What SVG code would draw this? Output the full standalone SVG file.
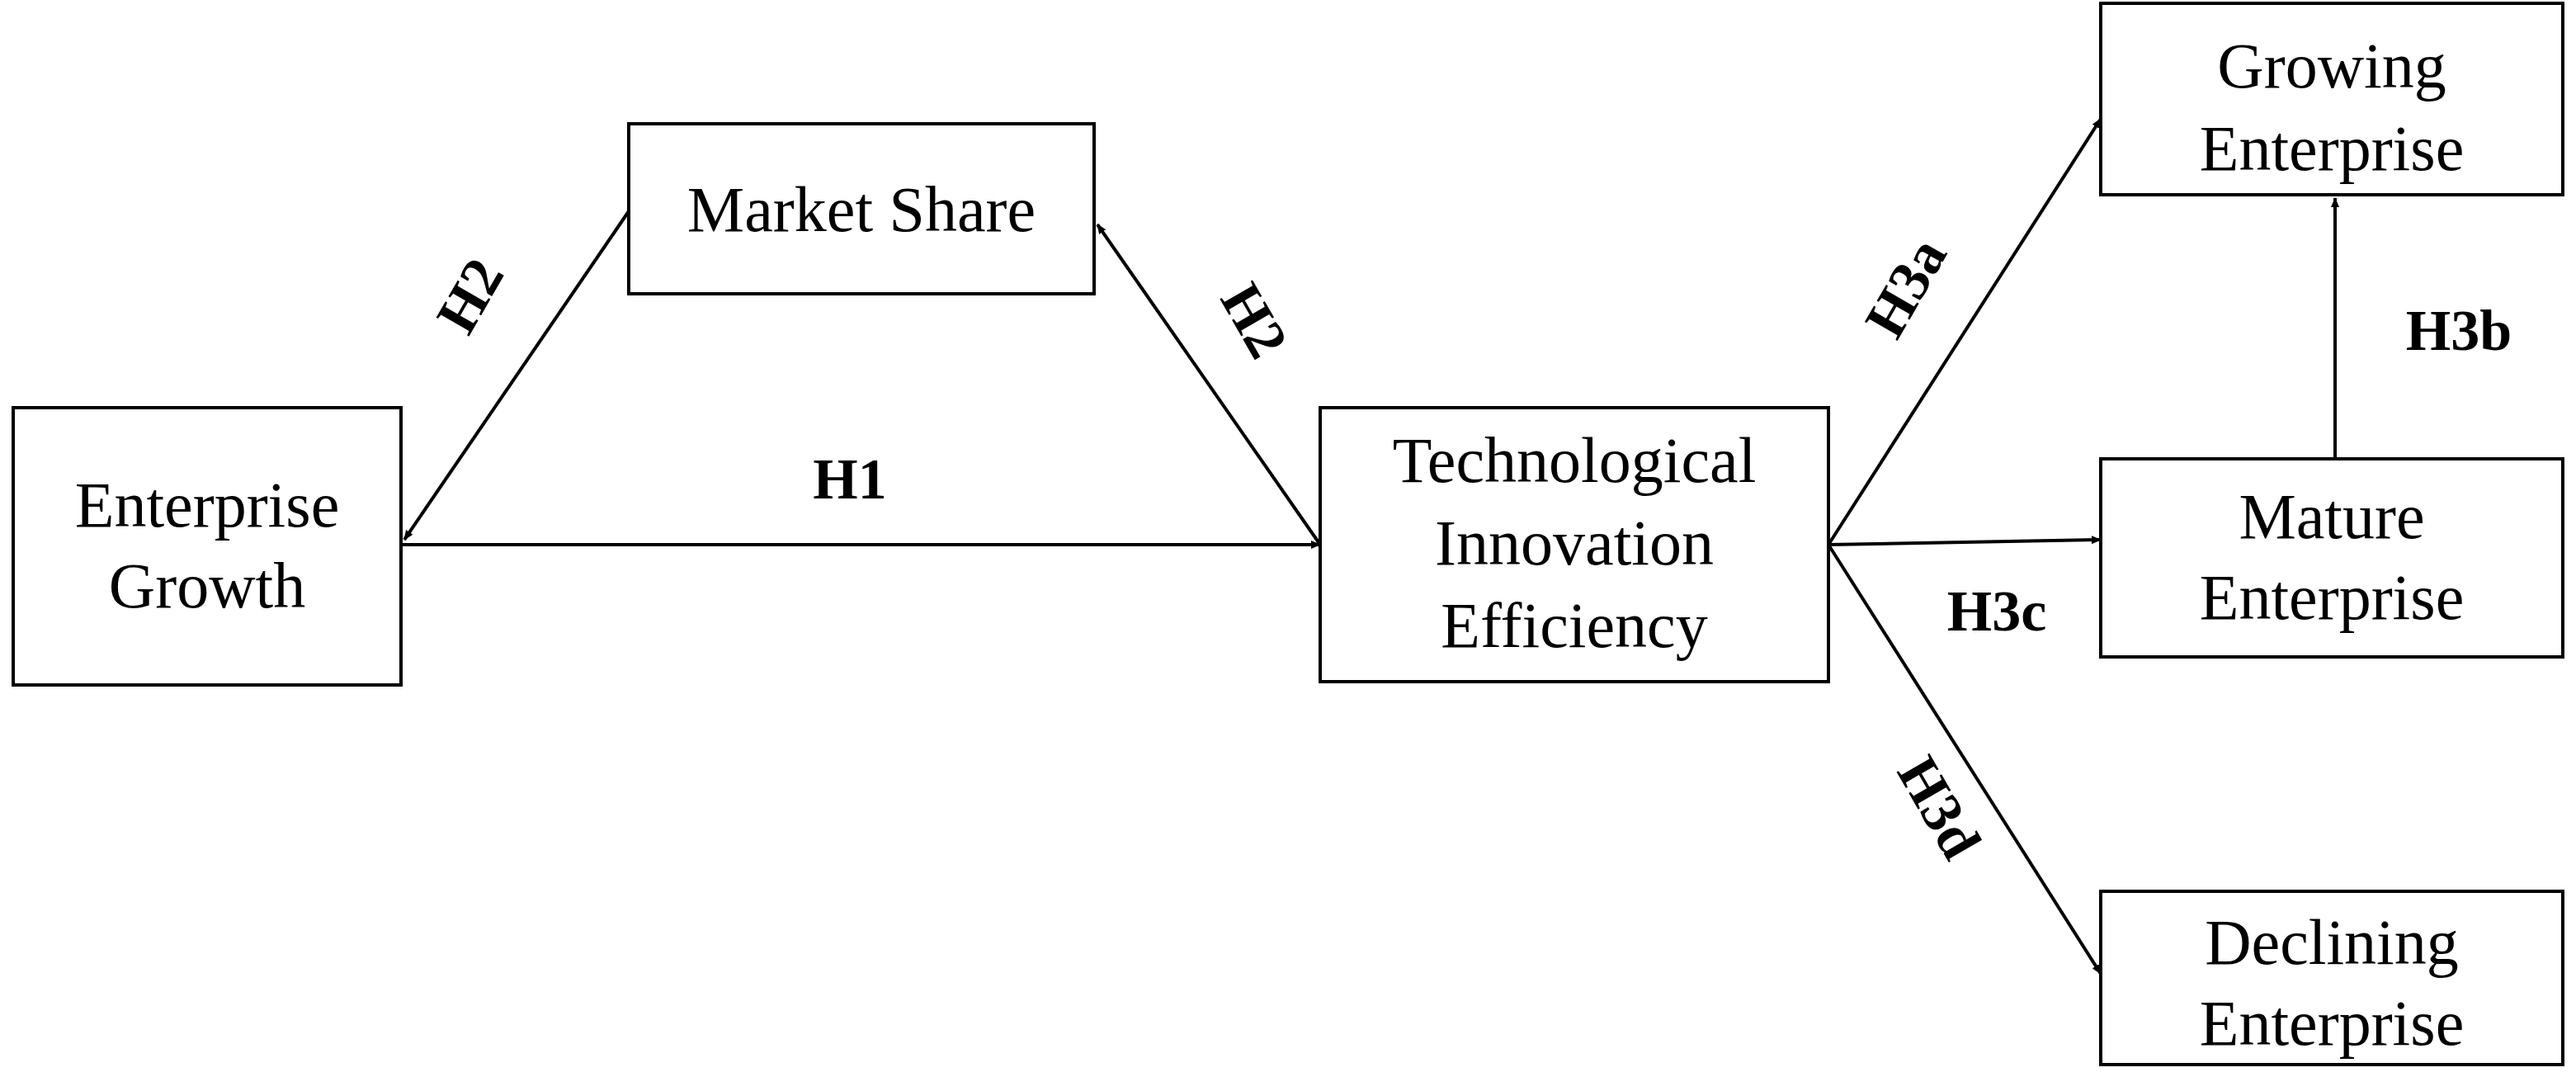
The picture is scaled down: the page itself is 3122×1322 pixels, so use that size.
<svg xmlns="http://www.w3.org/2000/svg" width="3122" height="1322" viewBox="0 0 3122 1322">
<style>
rect{fill:#fff;stroke:#000;stroke-width:4}
.t{font-family:"Liberation Serif",serif;font-size:78px;text-anchor:middle}
.h{font-family:"Liberation Serif",serif;font-size:70px;font-weight:bold;text-anchor:middle}
line{stroke:#000;stroke-width:4;marker-end:url(#a)}
</style>
<defs><marker id="a" markerWidth="12" markerHeight="10" refX="11" refY="5" orient="auto" markerUnits="userSpaceOnUse" viewBox="0 0 12 10"><path d="M0,0L12,5L0,10z"/></marker></defs>
<rect width="3122" height="1322" style="stroke:none"/>
<g id="market"><rect x="762" y="150" width="564" height="206"/><text class="t" x="1044" y="280">Market Share</text></g>
<g id="growth"><rect x="16" y="494" width="470" height="336"/><text class="t" x="251" y="638">Enterprise</text><text class="t" x="251" y="736">Growth</text></g>
<g id="tie"><rect x="1600" y="494" width="616" height="332"/><text class="t" x="1908" y="584">Technological</text><text class="t" x="1908" y="684">Innovation</text><text class="t" x="1908" y="784">Efficiency</text></g>
<g id="growing"><rect x="2546" y="4" width="560" height="232"/><text class="t" x="2826" y="106">Growing</text><text class="t" x="2826" y="206">Enterprise</text></g>
<g id="mature"><rect x="2546" y="556" width="560" height="240"/><text class="t" x="2826" y="652">Mature</text><text class="t" x="2826" y="750">Enterprise</text></g>
<g id="declining"><rect x="2546" y="1080" width="560" height="210"/><text class="t" x="2826" y="1168">Declining</text><text class="t" x="2826" y="1266">Enterprise</text></g>
<g id="connectors">
<line x1="486" y1="660" x2="1600" y2="660"/>
<line x1="1600" y1="660" x2="1330" y2="272"/>
<line x1="762" y1="256" x2="490" y2="654"/>
<line x1="2216" y1="660" x2="2546" y2="144"/>
<line x1="2216" y1="660" x2="2546" y2="654"/>
<line x1="2216" y1="660" x2="2546" y2="1180"/>
<line x1="2830" y1="556" x2="2830" y2="240"/>
</g>
<g id="labels">
<text class="h" x="1030" y="604">H1</text>
<text class="h" transform="translate(590,370) rotate(-60)">H2</text>
<text class="h" transform="translate(1500,400) rotate(60)">H2</text>
<text class="h" transform="translate(2330,360) rotate(-60)">H3a</text>
<text class="h" x="2980" y="424">H3b</text>
<text class="h" x="2420" y="764">H3c</text>
<text class="h" transform="translate(2330,990) rotate(60)">H3d</text>
</g>
</svg>
